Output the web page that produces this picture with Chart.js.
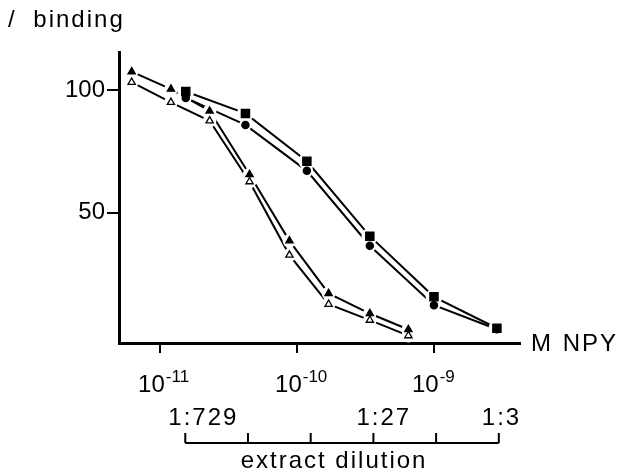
<!DOCTYPE html>
<html>
<head>
<meta charset="utf-8">
<script src="https://cdn.jsdelivr.net/npm/chart.js@4.4.1/dist/chart.umd.min.js"></script>
<style>
  html, body { margin: 0; padding: 0; background: #fff; }
  #wrap { width: 621px; height: 475px; position: relative; }
</style>
</head>
<body>
<div id="wrap"><canvas id="c"></canvas></div>
<script>
// ---- data ----
const yTitle = '/ binding';
const xTitle = 'M NPY';
const dilutionTitle = 'extract dilution';

// NPY concentration (M) for the triangle series
const triangleX = [6.2e-12, 1.2e-11, 2.3e-11, 4.5e-11, 8.8e-11, 1.7e-10, 3.4e-10, 6.5e-10];
const filledTriangleY = [107.5, 100.4, 91.5, 65.6, 38.6, 17.2, 9.0, 2.5];
const openTriangleY   = [103.2, 95.0, 87.5, 62.7, 32.8, 12.8, 6.3, 0];

// NPY concentration (M) for the square / circle series
const roundX = [1.54e-11, 4.2e-11, 1.18e-10, 3.4e-10, 1.0e-9, 2.88e-9];
const squareY = [99.4, 90.5, 71.0, 40.5, 15.8, 3.0];
const circleY = [96.8, 85.8, 67.1, 36.6, 12.4, 2.6];

// axis ticks
const xTickValues = [1e-11, 1e-10, 1e-9];
const xTickExponents = ['-11', '-10', '-9'];
const yTickValues = [50, 100];

// extract dilution scale (1:N)
const dilutions = [729, 243, 81, 27, 9, 3];
const dilutionLabels = {729: '1:729', 27: '1:27', 3: '1:3'};

const FONT = '"Liberation Sans", Arial, Helvetica, sans-serif';

function pts(xs, ys) { return xs.map((x, i) => ({x: x, y: ys[i]})); }

const seriesDefs = [
  {xs: triangleX, ys: filledTriangleY, style: 'triangle', r: 4.2, fill: '#000'},
  {xs: triangleX, ys: openTriangleY,   style: 'triangle', r: 4.2, fill: '#fff'},
  {xs: roundX,    ys: squareY,         style: 'rect',     r: 5.8, fill: '#000'},
  {xs: roundX,    ys: circleY,         style: 'circle',   r: 3.6, fill: '#000'}
];

const datasets = [];
seriesDefs.forEach(s => {
  // connecting line
  datasets.push({data: pts(s.xs, s.ys), showLine: true, borderColor: '#000', borderWidth: 2,
    pointRadius: 0, order: 3, xAxisID: 'x', yAxisID: 'y'});
  // white halo that opens the line around each marker
  datasets.push({data: pts(s.xs, s.ys), showLine: false, pointStyle: 'circle',
    pointRadius: s.r + 2.6, pointBackgroundColor: '#fff', pointBorderWidth: 0,
    pointBorderColor: '#fff', order: 2, xAxisID: 'x', yAxisID: 'y'});
  // marker
  datasets.push({data: pts(s.xs, s.ys), showLine: false, pointStyle: s.style,
    pointRadius: s.r, pointBackgroundColor: s.fill, pointBorderColor: '#000',
    pointBorderWidth: 1.3, order: 1, xAxisID: 'x', yAxisID: 'y'});
});

const textPlugin = {
  id: 'texts',
  afterDraw(chart) {
    const ctx = chart.ctx;
    const xs = chart.scales.x;
    const xd = chart.scales.xd;
    ctx.save();
    ctx.fillStyle = '#000';
    ctx.strokeStyle = '#000';
    ctx.letterSpacing = '2px';
    ctx.textBaseline = 'alphabetic';

    // y title
    ctx.font = '24px ' + FONT;
    ctx.textAlign = 'left';
    ctx.wordSpacing = '8px';
    ctx.fillText(yTitle, 8, 27);

    // x title
    ctx.wordSpacing = '1px';
    ctx.fillText(xTitle, 531, 351);
    ctx.wordSpacing = '0px';

    // x tick labels 10^n
    xTickValues.forEach((v, i) => {
      const px = xs.getPixelForValue(v);
      ctx.font = '24px ' + FONT;
      ctx.letterSpacing = '0px';
      const left = px - 22;
      ctx.fillText('10', left, 392);
      const w = ctx.measureText('10').width;
      ctx.font = '17px ' + FONT;
      ctx.fillText(xTickExponents[i], left + w + 1, 382);
    });

    // extract dilution bracket
    ctx.lineWidth = 2;
    const dpx = dilutions.map(d => xd.getPixelForValue(-Math.log10(d)));
    const yLine = 443, yTop = 433;
    ctx.beginPath();
    ctx.moveTo(dpx[0], yLine);
    ctx.lineTo(dpx[dpx.length - 1], yLine);
    dpx.forEach(p => { ctx.moveTo(p, yLine); ctx.lineTo(p, yTop); });
    ctx.stroke();

    ctx.font = '24px ' + FONT;
    ctx.letterSpacing = '2px';
    dilutions.forEach((d, i) => {
      if (dilutionLabels[d]) ctx.fillText(dilutionLabels[d], dpx[i] - 17, 425);
    });
    ctx.textAlign = 'center';
    ctx.fillText(dilutionTitle, (dpx[0] + dpx[dpx.length - 1]) / 2 - 8, 468);
    ctx.restore();
  }
};

new Chart(document.getElementById('c'), {
  type: 'scatter',
  data: {datasets: datasets},
  options: {
    responsive: true,
    maintainAspectRatio: false,
    animation: false,
    layout: {padding: {top: 52, right: 101, bottom: 0, left: 0}},
    plugins: {legend: {display: false}, tooltip: {enabled: false}},
    scales: {
      x: {
        type: 'logarithmic',
        position: 'bottom',
        min: Math.pow(10, -11.30),
        max: Math.pow(10, -8.372),
        border: {display: true, color: '#000', width: 3},
        grid: {drawOnChartArea: false, drawTicks: true, tickLength: 10, color: '#000', lineWidth: 2},
        ticks: {display: false},
        afterBuildTicks(scale) { scale.ticks = xTickValues.map(v => ({value: v})); },
        afterFit(scale) { scale.height = 132; }
      },
      xd: {
        type: 'linear',
        position: 'bottom',
        display: false,
        min: -3.367,
        max: -0.316
      },
      y: {
        type: 'linear',
        position: 'left',
        min: -3,
        max: 115.5,
        border: {display: true, color: '#000', width: 3},
        grid: {drawOnChartArea: false, drawTicks: true, tickLength: 12, color: '#000', lineWidth: 2},
        ticks: {color: '#000', padding: 2, font: {family: FONT, size: 24}},
        afterBuildTicks(scale) { scale.ticks = yTickValues.map(v => ({value: v})); },
        afterFit(scale) { scale.width = 119; }
      }
    }
  },
  plugins: [textPlugin]
});
</script>
</body>
</html>
